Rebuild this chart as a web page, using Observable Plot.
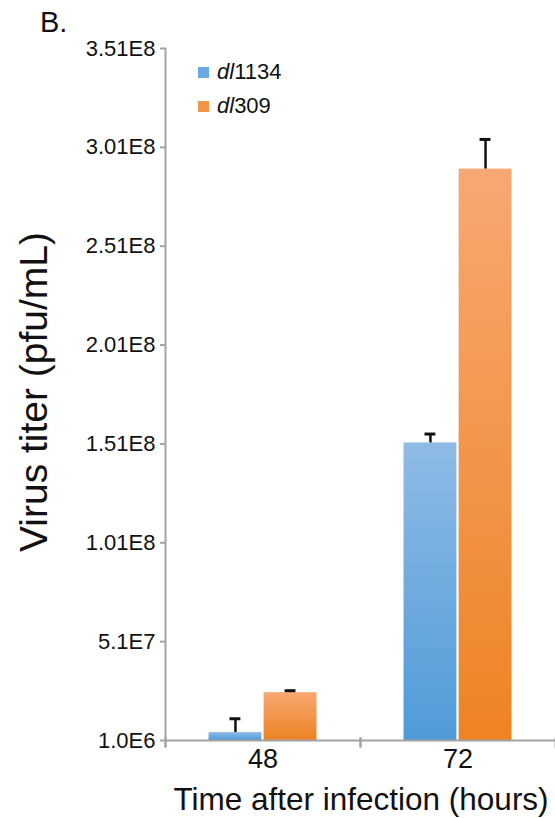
<!DOCTYPE html>
<html><head><meta charset="utf-8">
<script src="https://cdn.jsdelivr.net/npm/d3@7"></script>
<script src="https://cdn.jsdelivr.net/npm/@observablehq/plot@0.6"></script>
<style>
body{margin:0;background:#fff;}
#wrap{position:relative;width:555px;height:818px;font-family:"Liberation Sans",Arial,sans-serif;overflow:hidden;}
.ov{position:absolute;white-space:nowrap;color:#111;line-height:1;}
.sw{position:absolute;width:11px;height:11px;}
</style></head><body><div id="wrap"></div>
<script>
const times = ["48", "72"];
const strains = ["dl1134", "dl309"];
const titer48 = [5.0e6, 2.52e7];
const titer72 = [1.515e8, 2.90e8];
const err48 = [7.0e6, 1.0e6];
const err72 = [4.5e6, 1.5e7];
const yTicks = [1e6, 5.1e7, 1.01e8, 1.51e8, 2.01e8, 2.51e8, 3.01e8, 3.51e8];
const yTickLabels = ["1.0E6", "5.1E7", "1.01E8", "1.51E8", "2.01E8", "2.51E8", "3.01E8", "3.51E8"];
const fills = ["url(#gBlue)", "url(#gOrange)"];
const swatchColors = ["#6aaae0", "#f29447"];

const rows = [];
strains.forEach((s, i) => {
  rows.push({time: times[0], strain: s, value: titer48[i], err: err48[i]});
  rows.push({time: times[1], strain: s, value: titer72[i], err: err72[i]});
});
const yMin = yTicks[0], yMax = yTicks[yTicks.length - 1];
const axisGray = "#a3a3a3";

const chart = Plot.plot({
  width: 555, height: 818,
  marginLeft: 165, marginRight: 0, marginTop: 48, marginBottom: 78,
  style: {fontFamily: "Liberation Sans, Arial, sans-serif", background: "transparent", overflow: "visible"},
  fx: {domain: times, padding: 0, round: false, label: null},
  x: {domain: strains, paddingInner: 0.04, paddingOuter: 0.79, round: false, axis: null},
  y: {domain: [yMin, yMax], axis: null},
  color: {domain: strains, range: fills},
  marks: [
    Plot.barY(rows, {fx: "time", x: "strain", y1: () => yMin, y2: "value", fill: "strain"}),
    Plot.ruleY([yMin], {stroke: axisGray, strokeWidth: 2}),
    Plot.frame({anchor: "left", facetAnchor: "left", stroke: axisGray, strokeWidth: 2, insetBottom: -6}),
    Plot.frame({anchor: "left", stroke: axisGray, strokeWidth: 2, insetTop: 690, insetBottom: -6}),
    Plot.frame({anchor: "right", stroke: axisGray, strokeWidth: 2, insetTop: 690, insetBottom: -6}),
    Plot.axisY(yTicks, {anchor: "left", tickSize: 5, tickPadding: 5, fontSize: 22, stroke: axisGray, strokeWidth: 2, fill: "#111",
      tickFormat: d => yTickLabels[yTicks.indexOf(d)], label: null}),
    Plot.axisFx({anchor: "bottom", tickSize: 0, tickPadding: 8, fontSize: 27, fill: "#111", label: null}),
    Plot.ruleX(rows, {fx: "time", x: "strain", y1: "value", y2: d => d.value + d.err, stroke: "#111", strokeWidth: 2.5}),
    Plot.tickY(rows, {fx: "time", x: "strain", y: d => d.value + d.err, stroke: "#111", strokeWidth: 3, insetLeft: 21, insetRight: 21})
  ]
});

const svg = d3.select(chart);
const defs = svg.insert("defs", ":first-child");
function grad(id, top, bottom) {
  const g = defs.append("linearGradient").attr("id", id).attr("x1", 0).attr("y1", 0).attr("x2", 0).attr("y2", 1);
  g.append("stop").attr("offset", "0%").attr("stop-color", top);
  g.append("stop").attr("offset", "100%").attr("stop-color", bottom);
}
grad("gBlue", "#8fbbe6", "#4f9bd8");
grad("gOrange", "#f7a872", "#ee8324");

const wrap = document.getElementById("wrap");
wrap.appendChild(chart);
chart.style.position = "absolute"; chart.style.left = "0"; chart.style.top = "0";

function ov(html, css) {
  const d = document.createElement("div");
  d.className = "ov"; d.innerHTML = html; Object.assign(d.style, css);
  wrap.appendChild(d); return d;
}
ov("B.", {left: "40px", top: "8px", fontSize: "29px"});
ov("Virus titer (pfu/mL)", {left: "33px", top: "392px", fontSize: "39px", transform: "translate(-50%,-50%) rotate(-90deg)"});
ov("Time after infection (hours)", {left: "361px", top: "800px", fontSize: "31.5px", transform: "translate(-50%,-50%)"});
strains.forEach((s, i) => {
  const sw = document.createElement("div");
  sw.className = "sw";
  Object.assign(sw.style, {left: "198px", top: (67 + 34 * i) + "px", background: swatchColors[i]});
  wrap.appendChild(sw);
  ov("<i>" + s.slice(0, 2) + "</i>" + s.slice(2), {left: "217px", top: (61 + 34 * i) + "px", fontSize: "22px"});
});
</script></body></html>
